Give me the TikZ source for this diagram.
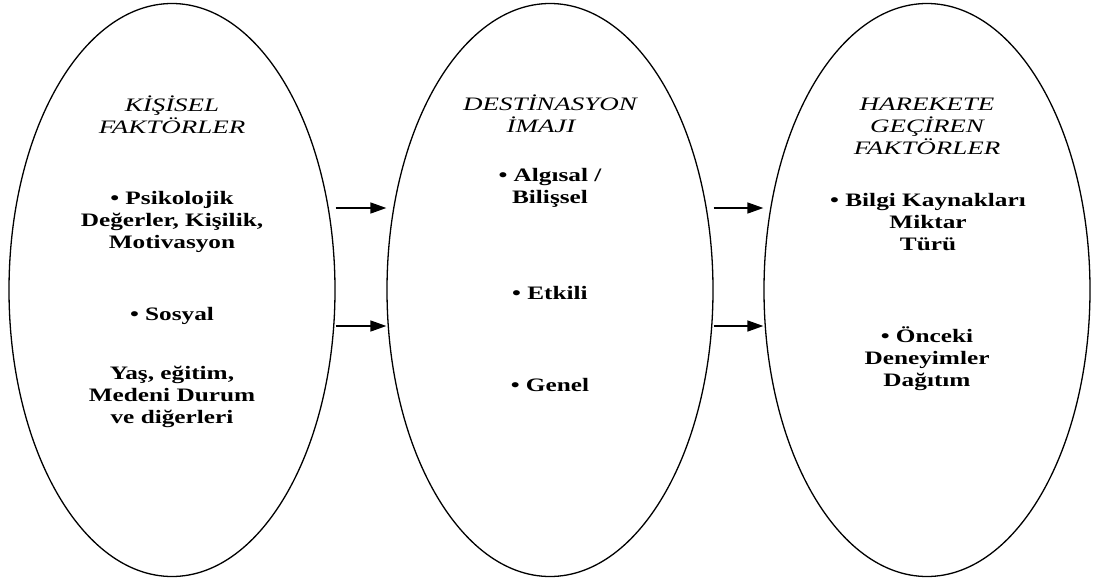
\documentclass[tikz,border=0pt]{standalone}
\usepackage{fontspec}
\setmainfont{Liberation Serif}[FakeStretch=1.42,BoldFeatures={FakeStretch=1.33}]
\usetikzlibrary{shapes.geometric,arrows.meta}

\begin{document}
\begin{tikzpicture}[x=1pt,y=-1pt,
	oval/.style={draw,line width=1.3pt,ellipse,inner sep=0pt,minimum width=326pt,minimum height=573pt},
	ok/.style={line width=1.6pt,-{Triangle[length=16pt,width=11pt]}},
	yazi/.style={align=center,inner sep=0pt,font=\fontsize{19}{22}\selectfont\bfseries},
	baslik/.style={yazi,font=\fontsize{19}{22}\selectfont\itshape}]
	\useasboundingbox (0,0) rectangle (1093,579);

	% ovals
	\node[oval] (kisisel) at (172,290) {};
	\node[oval] (imaj) at (550,290) {};
	\node[oval] (harekete) at (927,290) {};

	% left
	\node[baslik] (kisiselbaslik) at (172,115) {KİŞİSEL\\FAKTÖRLER};
	\node[yazi] (psikolojik) at (172,222) {• Psikolojik\\Değerler, Kişilik,\\Motivasyon};
	\node[yazi] (sosyal) at (172,316) {• Sosyal};
	\node[yazi] (yas) at (172,397) {Yaş, eğitim,\\Medeni Durum\\ve diğerleri};

	% middle
	\node[baslik] (imajbaslik) at (550,114) {DESTİNASYON\\İMAJI\hspace*{18pt}};
	\node[yazi] (algisal) at (550,188) {• Algısal /\\Bilişsel};
	\node[yazi] (etkili) at (550,293) {• Etkili};
	\node[yazi] (genel) at (550,385) {• Genel};

	% right
	\node[baslik] (hareketebaslik) at (927,126) {HAREKETE\\GEÇİREN\\FAKTÖRLER};
	\node[yazi] (bilgi) at (928,222) {• Bilgi Kaynakları\\Miktar\\Türü};
	\node[yazi] (onceki) at (927,359) {• Önceki\\Deneyimler\\Dağıtım};

	% arrows
	\coordinate (ust) at (0,208);
	\coordinate (alt) at (0,326);
	\draw[ok] (kisisel.east |- ust) -- (imaj.west |- ust);
	\draw[ok] (kisisel.east |- alt) -- (imaj.west |- alt);
	\draw[ok] (imaj.east |- ust) -- (harekete.west |- ust);
	\draw[ok] (imaj.east |- alt) -- (harekete.west |- alt);
\end{tikzpicture}
\end{document}
